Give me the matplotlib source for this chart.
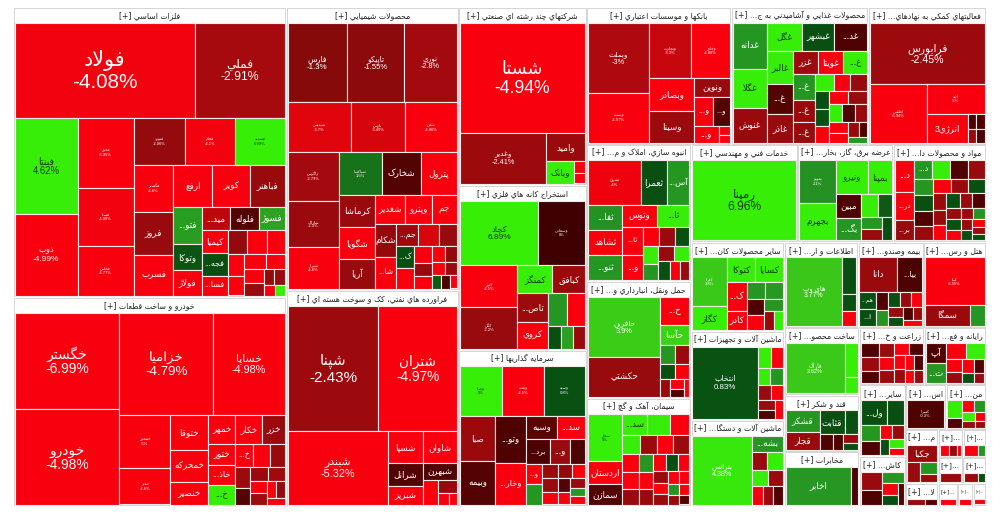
import matplotlib
matplotlib.use('Agg')
import matplotlib.pyplot as plt
from matplotlib.patches import Rectangle
import numpy as np

# ---------------- data (name, size, % change) ----------------
felezat = [("فولاد", 17290, -4.08), ("فملي", 8550, -2.91), ("فينتا", 6111, 4.62), ("ذوب", 5166, -4.99),
           ("فخوز", 3976, -6.95), ("فسپا", 3248, -4.08), ("فخاس", 2800, -4.77), ("فنورد", 2444, -2.06),
           ("فجام", 2397, -4.1), ("فسديد", 2350, 6.99), ("فگستر", 1880, -4.8), ("فروز", 1720, -2.2),
           ("فسرب", 1640, -4.6), ("ارفع", 1638, -4.3), ("کوير", 1596, -4.4), ("فباهنر", 1470, -2.3),
           ("فتو...", 1066, 2.4), ("وتوکا", 728, 0.9), ("فولاژ", 728, -4.5), ("ميد...", 675, -3.2),
           ("فلوله", 660, -0.4), ("فسوژ", 616, 2.6), ("کيميا", 594, -4.4), ("فجه...", 594, 0.7),
           ("فسا...", 513, -4.5), ("", 460, -2.0), ("", 460, -4.5), ("", 414, -4.5), ("", 374, -4.5),
           ("", 330, -4.5), ("", 324, -4.5), ("", 286, -4.5), ("", 286, -4.5), ("", 234, -2.2),
           ("", 180, -2.0), ("", 170, -2.2), ("", 126, -4.5), ("", 100, 5.0)]
khodro = [("خگستر", 9984, -6.99), ("خودرو", 9880, -4.98), ("خزاميا", 9500, -4.79), ("خساپا", 7200, -4.98),
          ("خمحور", 2700, -5.0), ("خفنر", 1850, -4.6), ("ختوقا", 1332, -4.5), ("خمحرکه", 1184, -4.6),
          ("خنصير", 851, -4.5), ("خمهر", 784, -4.4), ("خکار", 784, -4.3), ("خزر", 644, -2.3),
          ("ختور", 572, -4.5), ("خاذ...", 546, -4.5), ("خ...", 520, 5.0), ("خ...", 420, -4.5),
          ("", 378, -4.5), ("", 357, -2.2), ("", 308, -2.4), ("", 240, -0.4), ("", 240, -2.2),
          ("", 220, -2.5), ("", 200, -4.5), ("", 180, -2.5), ("", 150, -4.5), ("", 150, -2.0), ("", 120, -4.5)]
shimi = [("فارس", 4543, -1.3), ("تاپيکو", 4389, -1.55), ("نوري", 4081, -2.8), ("شپديس", 3024, -3.7),
         ("پارس", 2544, -3.49), ("شفن", 2496, -4.86), ("زاگرس", 2397, -2.79), ("شاراک", 2256, -2.3),
         ("شيراز", 2021, -4.6), ("شپاکسا", 1800, 1.5), ("شخارک", 1600, -0.4), ("پترول", 1480, -4.4),
         ("کرماشا", 1155, -2.3), ("شگويا", 1120, -4.2), ("آريا", 1050, -2.2), ("شغدير", 832, -4.5),
         ("وپترو", 754, -4.4), ("جم", 700, -4.5), ("شکام", 676, -2.0), ("شا...", 625, -4.4),
         ("جم...", 475, -2.4), ("", 437, -3.5), ("", 399, -2.2), ("ک...", 378, 0.7), ("", 342, -4.5),
         ("", 288, -4.5), ("", 234, -2.2), ("", 216, -4.5), ("", 200, -4.5), ("", 180, -2.0),
         ("", 150, -4.5), ("", 140, -2.3), ("", 120, 1.0), ("", 110, -0.3), ("", 100, -4.5)]
faravarde = [("شپنا", 11250, -2.43), ("شتران", 9750, -4.97), ("شبندر", 7227, -5.32), ("شسپا", 1120, -4.4),
             ("شاوان", 1056, -4.5), ("شرانل", 805, -0.4), ("شبريز", 630, -4.5), ("شبهرن", 561, -0.3),
             ("", 375, -4.5), ("", 234, -2.2), ("", 120, -4.5), ("", 100, -4.5)]
chand = [("شستا", 13750, -4.94), ("وغدير", 4300, -2.41), ("واميد", 1092, -2.3), ("وبانک", 616, 5.0),
         ("", 132, -4.5), ("", 121, -4.5)]
estekhraj = [("کچاد", 5056, 6.89), ("وسعادن", 3008, 0.0), ("کنور", 2394, -4.5), ("کگل", 2337, -2.2),
             ("کمنگز", 945, 5.0), ("کبافق", 891, -2.3), ("تاص...", 870, -2.4), ("کروي", 810, -4.5),
             ("", 627, 2.2), ("", 594, -4.5), ("", 286, 0.7), ("", 286, 2.5), ("", 264, -2.2)]
sarmaye = [("وصنا", 1932, 5.0), ("ونفت", 1932, -4.5), ("وسپه", 1886, 0.8), ("صبا", 1440, -2.3),
           ("وبيمه", 1408, -0.4), ("وتو...", 1316, -0.3), ("وخار...", 1176, -4.5), ("وسبه", 660, -0.5),
           ("سد...", 594, -4.5), ("برد...", 540, -0.3), ("و...", 440, -2.2), ("", 352, -0.3),
           ("و...", 289, -4.5), ("", 289, 2.2), ("", 208, -2.2), ("", 208, -2.2), ("", 182, -4.5),
           ("", 180, -2.0), ("", 160, -4.5), ("", 150, -0.4), ("", 140, -4.5), ("", 130, -2.2),
           ("", 120, 2.3), ("", 110, -4.5)]
banks = [("وبملت", 4270, -3.0), ("وپست", 3050, -4.97), ("وتجارت", 2322, -3.3), ("وخاور", 2106, -4.88),
         ("وبصادر", 1485, -4.5), ("وسينا", 1440, -2.4), ("ونوين", 666, -2.2), ("و...", 551, -4.5),
         ("و...", 493, -0.4), ("و...", 408, -4.5), ("", 99, -4.5), ("", 90, -4.5)]
ghazaei = [("غدانه", 1564, 2.2), ("غگلا", 1326, 5.0), ("غنوش", 1190, -2.3), ("غگل", 972, 5.0),
           ("غبشهر", 918, 0.7), ("غد...", 910, -0.3), ("غالبر", 837, 5.0), ("غ...", 754, -0.4),
           ("غاذر", 728, -2.2), ("غزر", 598, -2.4), ("غويتا", 575, -4.5), ("غ...", 552, 5.0),
           ("غ...", 550, 2.2), ("غ...", 484, -2.3), ("غ...", 462, -2.2), ("", 320, 5.0), ("", 272, -4.5),
           ("", 272, -2.2), ("", 255, 0.7), ("", 255, 0.8), ("", 250, -4.5), ("", 240, -4.5),
           ("", 240, -2.2), ("", 230, 5.0), ("", 220, -0.3), ("", 210, -2.2), ("", 200, -4.5),
           ("", 190, -4.5), ("", 150, -2.2), ("", 120, -0.3), ("", 110, 2.2)]
komaki = [("فرابورس", 6960, -2.45), ("اطلس", 3363, -6.94), ("آتيه", 1711, -5.0), ("انرژي3", 1160, -4.5),
          ("", 130, -0.3), ("", 126, -0.3), ("", 120, -2.2), ("", 110, -0.3)]
anbooh = [("ثشرق", 2211, -4.0), ("ثعمرا", 1089, 0.7), ("آس...", 960, 2.2), ("ثفا...", 832, 2.1),
          ("ثشاهد", 810, -4.5), ("ثنو...", 800, 2.2), ("وتوس", 720, -4.5), ("ثا...", 672, 5.0),
          ("ثا...", 540, -4.5), ("و...", 480, -4.5), ("", 300, -4.5), ("", 280, -2.2), ("", 270, 0.7),
          ("", 260, 5.0), ("", 240, 2.2), ("", 230, -2.2), ("", 220, 5.0), ("", 200, 0.7),
          ("", 180, -4.5), ("", 160, -2.2)]
haml = [("حافرين", 4680, 3.9), ("حکشتي", 3042, -2.13), ("ح...", 902, -4.5), ("حآسا", 638, 4.0),
        ("", 300, 2.2), ("", 280, -2.2), ("", 250, 0.7), ("", 230, -4.5), ("", 200, -2.3),
        ("", 150, -4.5), ("", 120, -0.3), ("", 100, -4.5)]
siman = [("سفار", 1645, 5.0), ("اردستان", 805, -4.5), ("سمازن", 700, -0.4), ("سد...", 528, 5.0),
         ("", 506, 5.0), ("", 418, -4.5), ("", 360, 5.0), ("", 340, -2.3), ("", 330, -4.5),
         ("", 320, -2.2), ("", 300, -4.5), ("", 280, -4.5), ("", 260, -2.2), ("", 250, 2.2),
         ("", 240, -4.5), ("", 230, -2.2), ("", 220, -4.5), ("", 200, 0.7), ("", 190, -4.5),
         ("", 180, -2.2), ("", 170, -4.5), ("", 160, -2.3), ("", 150, -4.5), ("", 140, -4.5),
         ("", 130, 2.2), ("", 120, -2.2), ("", 110, -4.5), ("", 100, -0.3)]
khadamat = [("رمپنا", 8667, 6.96)]
bargh = [("بموتو", 1554, 2.1), ("بجهرم", 1369, 5.0), ("ونيرو", 1088, 4.9), ("بمپنا", 816, 4.8),
         ("مبين", 598, -0.3), ("بگ...", 546, 2.2), ("", 368, 5.0), ("", 299, 1.0), ("", 250, 2.2),
         ("", 240, -2.2), ("", 230, 0.7)]
daroo = [("د...", 620, -4.5), ("در...", 560, -4.5), ("بر...", 400, -2.3), ("د...", 340, 2.2),
         ("", 340, 5.0), ("", 330, -0.3), ("", 320, -2.2), ("", 300, 2.2), ("", 290, 0.7),
         ("", 280, -0.3), ("", 270, -2.2), ("", 260, -4.5), ("", 250, -2.2), ("", 240, 0.7),
         ("", 230, -2.3), ("", 220, -2.2), ("", 210, -4.5), ("", 200, 0.7), ("", 190, -2.2),
         ("", 180, -0.3), ("", 170, -2.2), ("", 160, 0.8), ("", 150, -4.5), ("", 140, -2.2),
         ("", 130, 2.2), ("", 120, -2.2), ("", 110, 0.7), ("", 100, -4.5), ("", 90, -2.2), ("", 80, 0.7)]
kani = [("کفرا", 1680, 3.8), ("کگاز", 805, 5.0), ("کتوکا", 700, 4.6), ("کسايا", 675, 4.8),
        ("ک...", 567, -4.5), ("کادر", 378, -4.5), ("", 300, 2.2), ("", 280, 2.3), ("", 260, -0.3),
        ("", 240, -4.5), ("", 230, 2.2), ("", 200, -2.2), ("", 150, 5.0)]
mashin1 = [("انتخاب", 4757, 0.83), ("", 286, 5.0), ("", 242, -4.5), ("", 210, 5.0), ("", 210, 2.2),
           ("", 200, -2.2), ("", 180, -4.5), ("", 170, -2.2), ("", 150, -0.3), ("", 140, -4.5)]
mashin2 = [("بترانس", 4410, 4.38), ("بشه...", 560, 2.2), ("", 300, -2.2), ("", 290, 5.0),
           ("", 270, 5.0), ("", 250, -2.3), ("", 230, -4.5), ("", 200, -2.2), ("", 180, -0.3)]
etelaat = [("هاي وب", 3630, 3.77), ("", 476, 0.7), ("", 224, 0.8), ("", 200, -4.5)]
felezi = [("فاراک", 3068, 3.82), ("", 442, 5.0), ("", 221, 5.0)]
ghand = [("قشکر", 704, 2.2), ("قجار", 598, -2.3), ("قثابت", 576, 0.7), ("", 300, 0.8),
         ("", 200, -0.3), ("", 160, -0.3), ("", 120, -2.2), ("", 100, 0.7)]
mokhaberat = [("اخابر", 2535, 2.23), ("", 273, -0.3)]
bime = [("دانا", 1287, -2.3), ("بيا...", 858, -0.3), ("هم...", 288, 0.7), ("ا...", 288, 0.7),
        ("", 220, -0.3), ("", 200, 2.2), ("", 180, 0.7), ("", 170, -2.2), ("", 160, -4.5),
        ("", 150, -2.2), ("", 140, 0.7), ("", 130, -0.3), ("", 120, -2.2), ("", 110, -4.5)]
hotel = [("کبنا", 2806, -6.55), ("سمگا", 920, -2.3), ("", 300, 2.2)]
zeraat = [("", 300, -0.3), ("", 280, -2.2), ("", 260, -0.3), ("", 240, -2.2), ("", 230, -4.5),
          ("", 220, -2.3), ("", 200, -4.5), ("", 190, -0.3), ("", 180, -4.5), ("", 170, -2.2),
          ("", 160, -4.5), ("", 150, -0.3), ("", 140, -4.5), ("", 130, -2.2)]
rayane = [("آپ", 380, -0.3), ("ت...", 380, 2.2), ("", 300, -4.5), ("", 280, 5.0), ("", 200, -4.5),
          ("", 180, -2.2), ("", 160, -4.5), ("", 140, -0.3), ("", 120, 0.7), ("", 100, -2.2)]
sayer = [("ول...", 756, 0.7), ("", 500, 0.7), ("", 380, 2.2), ("", 300, -0.3), ("", 220, -4.5),
         ("", 200, -2.2), ("", 180, 0.7), ("", 150, 5.0), ("", 120, -4.5)]
kash = [("", 400, -2.2), ("", 300, -0.3), ("", 250, 2.2), ("", 200, -4.5), ("", 150, 0.7), ("", 120, -0.3)]
estekh = [("کسرا", 1000, -0.3)]
las = [("", 380, 5.0), ("", 220, -0.3), ("", 200, -4.5), ("", 180, 2.2), ("", 160, 5.0),
       ("", 130, -2.2), ("", 120, -4.5), ("", 100, -2.2)]
jakaba = [("جکبا", 620, -2.3), ("", 330, -2.2), ("", 260, 2.2), ("", 150, -2.3)]
khar = [("", 150, -2.2), ("", 100, -0.3)]
small_a = [("", 200, -4.5), ("", 150, -2.2), ("", 100, -4.5)]
small_b = [("", 200, -4.5), ("", 100, 2.2)]
small_c = [("", 250, -2.2)]
small_d = [("", 200, -2.2), ("", 100, 0.7)]
small_e = [("", 150, -4.5)]
small_f = [("", 100, -4.5)]
small_g = [("", 80, -4.5)]

sector_titles = ["فلزات اساسي", "خودرو و ساخت قطعات", "محصولات شيميايي",
                 "فراورده هاي نفتي، کک و سوخت هسته اي", "شرکتهاي چند رشته اي صنعتي",
                 "استخراج کانه هاي فلزي", "سرمايه گذاريها", "بانکها و موسسات اعتباري",
                 "محصولات غذايي و آشاميدني به جز قند و شکر", "فعاليتهاي کمکي به نهادهاي مالي واسط",
                 "انبوه سازي، املاک و مستغلات", "حمل ونقل، انبارداري و ارتباطات", "سيمان، آهک و گچ",
                 "خدمات فني و مهندسي", "عرضه برق، گاز، بخاروآب گرم", "مواد و محصولات دارويي",
                 "ساير محصولات کاني غيرفلزي", "ماشين آلات و تجهيزات", "ماشين آلات و دستگاههاي برقي",
                 "اطلاعات و ارتباطات", "بيمه وصندوق بازنشستگي", "هتل و رستوران",
                 "ساخت محصولات فلزي", "قند و شکر", "مخابرات", "زراعت و خدمات وابسته",
                 "رايانه و فعاليتهاي وابسته", "ساير واسطه گريهاي مالي", "کاشي و سراميک",
                 "استخراج ساير معادن", "منسوجات", "محصولات کاغذي", "لاستيک و پلاستيک",
                 "دباغي", "چوب", "ساخت وسايل", "حمل ونقل آبي", "فني", "تجهيزات", "پيمانکاري"]
sector_sizes = [79170, 57057, 48676, 37152, 22784, 21120, 19968, 19865, 18810, 16166,
                14248, 12168, 11232, 10379, 9312, 9021, 8300, 8280, 7998, 6333,
                5610, 5355, 5066, 4246, 4097, 3696, 3528, 3300, 2300, 1800,
                1800, 1750, 748, 700, 650, 620, 600, 450, 350, 300]
sector_cells = [felezat, khodro, shimi, faravarde, chand, estekhraj, sarmaye, banks, ghazaei, komaki,
                anbooh, haml, siman, khadamat, bargh, daroo, kani, mashin1, mashin2, etelaat,
                bime, hotel, felezi, ghand, mokhaberat, zeraat, rayane, sayer, kash, estekh,
                las, jakaba, khar, small_a, small_b, small_c, small_d, small_e, small_f, small_g]

# cells whose label is printed very small in the original
tiny = {"فخوز", "فسپا", "فخاس", "فنورد", "فجام", "فسديد", "فگستر", "خمحور", "خفنر", "شپديس", "پارس",
        "شفن", "زاگرس", "شاراک", "شيراز", "شپاکسا", "وسعادن", "کنور", "کگل", "وصنا", "ونفت", "وسپه",
        "وپست", "وتجارت", "وخاور", "اطلس", "آتيه", "ثشرق", "سفار", "بموتو", "کفرا", "کبنا", "کسرا"}

# ---------------- arabic shaping (no bidi engine in matplotlib) ----------------
FORMS = {
    'آ': '\uFE81\uFE82', 'أ': '\uFE83\uFE84', 'ؤ': '\uFE85\uFE86', 'إ': '\uFE87\uFE88',
    'ئ': '\uFE89\uFE8A\uFE8B\uFE8C', 'ا': '\uFE8D\uFE8E', 'ب': '\uFE8F\uFE90\uFE91\uFE92',
    'ة': '\uFE93\uFE94', 'ت': '\uFE95\uFE96\uFE97\uFE98', 'ث': '\uFE99\uFE9A\uFE9B\uFE9C',
    'ج': '\uFE9D\uFE9E\uFE9F\uFEA0', 'ح': '\uFEA1\uFEA2\uFEA3\uFEA4', 'خ': '\uFEA5\uFEA6\uFEA7\uFEA8',
    'د': '\uFEA9\uFEAA', 'ذ': '\uFEAB\uFEAC', 'ر': '\uFEAD\uFEAE', 'ز': '\uFEAF\uFEB0',
    'س': '\uFEB1\uFEB2\uFEB3\uFEB4', 'ش': '\uFEB5\uFEB6\uFEB7\uFEB8', 'ص': '\uFEB9\uFEBA\uFEBB\uFEBC',
    'ض': '\uFEBD\uFEBE\uFEBF\uFEC0', 'ط': '\uFEC1\uFEC2\uFEC3\uFEC4', 'ظ': '\uFEC5\uFEC6\uFEC7\uFEC8',
    'ع': '\uFEC9\uFECA\uFECB\uFECC', 'غ': '\uFECD\uFECE\uFECF\uFED0', 'ف': '\uFED1\uFED2\uFED3\uFED4',
    'ق': '\uFED5\uFED6\uFED7\uFED8', 'ك': '\uFED9\uFEDA\uFEDB\uFEDC', 'ل': '\uFEDD\uFEDE\uFEDF\uFEE0',
    'م': '\uFEE1\uFEE2\uFEE3\uFEE4', 'ن': '\uFEE5\uFEE6\uFEE7\uFEE8', 'ه': '\uFEE9\uFEEA\uFEEB\uFEEC',
    'و': '\uFEED\uFEEE', 'ى': '\uFEEF\uFEF0', 'ي': '\uFEF1\uFEF2\uFEF3\uFEF4',
    'پ': '\uFB56\uFB57\uFB58\uFB59', 'چ': '\uFB7A\uFB7B\uFB7C\uFB7D', 'ژ': '\uFB8A\uFB8B',
    'ک': '\uFB8E\uFB8F\uFB90\uFB91', 'گ': '\uFB92\uFB93\uFB94\uFB95', 'ی': '\uFBFC\uFBFD\uFBFE\uFBFF',
}
LAMALEF = {'ا': '\uFEFB\uFEFC', 'آ': '\uFEF5\uFEF6', 'أ': '\uFEF7\uFEF8', 'إ': '\uFEF9\uFEFA'}


def shape(txt):
    out = []
    i, n = 0, len(txt)
    while i < n:
        c = txt[i]
        if c not in FORMS:
            out.append(c); i += 1; continue
        p = txt[i - 1] if i > 0 else ''
        jp = len(FORMS.get(p, '')) == 4
        if c == 'ل' and i + 1 < n and txt[i + 1] in LAMALEF:
            f = LAMALEF[txt[i + 1]]
            out.append(f[1] if jp else f[0]); i += 2; continue
        f = FORMS[c]
        nx = txt[i + 1] if i + 1 < n else ''
        jn = len(f) == 4 and nx in FORMS
        if jp and jn: out.append(f[3])
        elif jp: out.append(f[1])
        elif jn: out.append(f[2])
        else: out.append(f[0])
        i += 1
    return ''.join(out)


def vis(txt):
    return shape(txt)[::-1]


# ---------------- squarified treemap ----------------
def strip(sizes, x, y, dx, dy):
    cov = sum(sizes)
    out = []
    if dx >= dy:
        w = cov / dy
        for s in sizes:
            out.append((x, y, w, s / w)); y += s / w
    else:
        h = cov / dx
        for s in sizes:
            out.append((x, y, s / h, h)); x += s / h
    return out


def leftover(sizes, x, y, dx, dy):
    cov = sum(sizes)
    if dx >= dy:
        w = cov / dy
        return x + w, y, dx - w, dy
    h = cov / dx
    return x, y + h, dx, dy - h


def worst(sizes, x, y, dx, dy):
    return max(max(w / h, h / w) for _, _, w, h in strip(sizes, x, y, dx, dy))


def squarify(sizes, x, y, dx, dy):
    if not sizes:
        return []
    if len(sizes) == 1:
        return strip(sizes, x, y, dx, dy)
    i = 1
    while i < len(sizes) and worst(sizes[:i], x, y, dx, dy) >= worst(sizes[:i + 1], x, y, dx, dy):
        i += 1
    cur, rest = sizes[:i], sizes[i:]
    return strip(cur, x, y, dx, dy) + squarify(rest, *leftover(cur, x, y, dx, dy))


def norm(values, dx, dy):
    tot = float(sum(values))
    return [v * dx * dy / tot for v in values]


# ---------------- colours ----------------
red_x = [0, 1.3, 2.9, 3.5, 4.2, 8]
red_c = np.array([(62, 0, 0), (135, 10, 10), (165, 10, 15), (215, 5, 12), (248, 0, 14), (250, 0, 14)])
grn_x = [0, 0.83, 2.2, 3.8, 4.5, 8]
grn_c = np.array([(20, 62, 15), (8, 82, 18), (38, 150, 35), (58, 200, 25), (55, 238, 8), (55, 240, 5)])


def cell_color(v):
    xs, cs = (red_x, red_c) if v <= 0 else (grn_x, grn_c)
    a = abs(v)
    return tuple(np.interp(a, xs, cs[:, k]) / 255.0 for k in range(3))


def pct_text(v):
    return ('%.2f' % v).rstrip('0').rstrip('.') + '%'


# ---------------- draw ----------------
plt.rcParams['font.family'] = ['Liberation Sans', 'DejaVu Sans']
fig = plt.figure(figsize=(10, 5.17), dpi=100)
ax = fig.add_axes([0, 0, 1, 1])
ax.set_xlim(0, 1000)
ax.set_ylim(517, 0)
ax.axis('off')
renderer = fig.canvas.get_renderer()

X0, Y0, W, H = 13, 7, 973, 499
HDR = 15
PT = 100 / 72.0
HFS = 5.6


def fit_header(t, title, width):
    # cut the sector name until the header text fits, as the site does
    avail = width - 5
    if t.get_window_extent(renderer).width <= avail:
        return
    base = title
    while base:
        base = base[:-1].rstrip()
        t.set_text('[+] ' + vis(base + '...') if base else '[+]...')
        if t.get_window_extent(renderer).width <= avail:
            return
    fs = HFS
    while t.get_window_extent(renderer).width > avail and fs > 2.5:
        fs -= 0.3
        t.set_fontsize(fs)


rects = squarify(norm(sector_sizes, W, H), X0, Y0, W, H)
for (sx, sy, sw, sh), title, cells in zip(rects, sector_titles, sector_cells):
    frame = Rectangle((sx + 0.8, sy + 0.8), sw - 1.6, sh - 1.6, facecolor='white',
                      edgecolor='#cfcfcf', lw=0.6)
    ax.add_patch(frame)
    t = ax.text(sx + sw / 2, sy + HDR / 2 + 1, '[+] ' + vis(title), ha='center', va='center',
                fontsize=HFS, color='#222222', family=['DejaVu Sans'])
    fit_header(t, title, sw)
    t.set_clip_path(frame)

    cx, cy, cw, ch = sx + 1.5, sy + HDR + 0.5, sw - 3, sh - HDR - 2
    cells = sorted(cells, key=lambda c: -c[1])
    crs = squarify(norm([c[1] for c in cells], cw, ch), cx, cy, cw, ch)
    for (x, y, w, h), (name, val, pct) in zip(crs, cells):
        ax.add_patch(Rectangle((x, y), w, h, facecolor=cell_color(pct), edgecolor='#f4eaea', lw=0.8))
        tc = '#133a05' if pct >= 4.5 else 'white'
        xc, yc = x + w / 2, y + h / 2
        area = w * h
        if not name:
            continue
        if name in tiny:
            ax.text(xc, yc - 2.2, vis(name), ha='center', va='center', fontsize=3.0, color=tc)
            ax.text(xc, yc + 2.4, pct_text(pct), ha='center', va='center', fontsize=3.0, color=tc)
            continue
        fs = 15 * (area / 17290.0) ** 0.75
        if fs >= 4.0:
            fs = min(fs, w / (0.42 * PT * max(len(name), 5)))
            ax.text(xc, yc - 0.45 * fs * PT, vis(name), ha='center', va='center', fontsize=fs, color=tc)
            ax.text(xc, yc + 0.6 * fs * PT, pct_text(pct), ha='center', va='center', fontsize=fs, color=tc)
        else:
            fs = 6.3
            tw = 0.5 * fs * PT * len(name)
            if tw > w - 2:
                fs = fs * (w - 2) / tw
            if fs >= 4.0 and h > fs * PT:
                ax.text(xc, yc, vis(name), ha='center', va='center', fontsize=fs, color=tc)

fig.savefig('out.png', dpi=100, facecolor='white')
